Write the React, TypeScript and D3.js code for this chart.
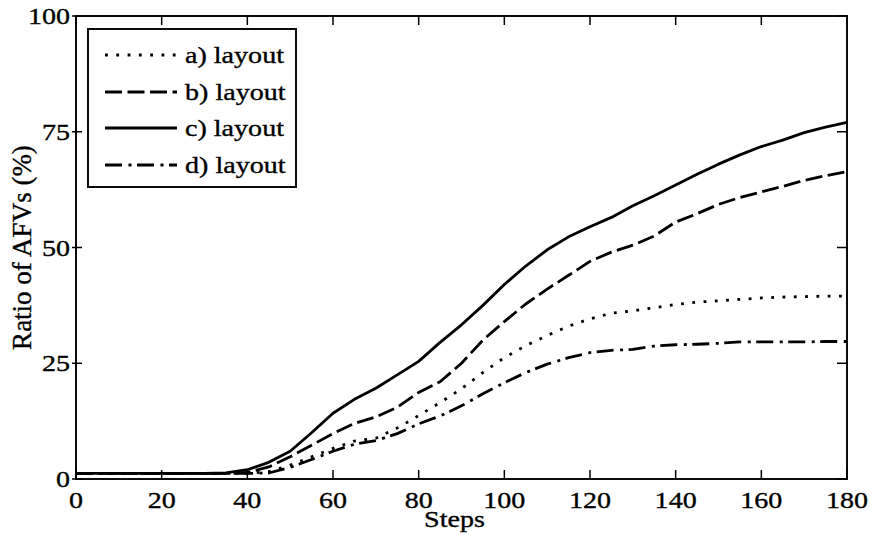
import React from "react";
import * as d3 from "d3";

const steps = [0,5,10,15,20,25,30,35,40,45,50,55,60,65,70,75,80,85,90,95,100,105,110,115,120,125,130,135,140,145,150,155,160,165,170,175,180];

const seriesA = [1.2,1.2,1.2,1.2,1.2,1.2,1.2,1.2,1.2,1.6,3.0,4.8,6.6,8.2,8.8,11.0,13.7,16.5,19.5,23.0,26.2,28.8,31.0,33.0,34.6,35.8,36.3,37.0,37.7,38.2,38.5,38.8,39.1,39.3,39.4,39.5,39.5];
const seriesB = [1.2,1.2,1.2,1.2,1.2,1.2,1.2,1.2,1.4,2.6,4.8,7.3,9.8,12.0,13.4,15.5,18.7,21.0,25.0,30.0,34.0,37.8,41.0,44.0,47.0,49.0,50.5,52.5,55.5,57.3,59.3,60.8,62.0,63.2,64.5,65.5,66.4];
const seriesC = [1.2,1.2,1.2,1.2,1.2,1.2,1.2,1.3,2.0,3.6,6.0,10.0,14.2,17.2,19.6,22.5,25.4,29.5,33.3,37.5,42.0,46.0,49.5,52.3,54.5,56.5,59.0,61.2,63.5,65.8,68.0,70.0,71.8,73.2,74.8,76.0,77.0];
const seriesD = [1.2,1.2,1.2,1.2,1.2,1.2,1.2,1.2,1.2,1.3,2.5,4.2,6.0,7.5,8.3,9.8,11.9,13.6,15.8,18.4,20.8,23.0,24.8,26.2,27.3,27.8,28.0,28.7,29.0,29.1,29.3,29.6,29.6,29.6,29.6,29.7,29.7];

const seriesNames = ["a) layout", "b) layout", "c) layout", "d) layout"];
const xTicks = [0,20,40,60,80,100,120,140,160,180];
const yTicks = [0,25,50,75,100];

const dashes = ["2.8,8.5", "17,5.5", "", "17,6.5,3,5.5"];

const W = 872, H = 535;
const L = 76, R = 847, T = 16, B = 479;
const FS = 24;
const SX = 1.17;
const FONT = '"Liberation Serif", "Times New Roman", Tinos, "Nimbus Roman", serif';
const tstyle = { fontFamily: FONT, fontSize: FS } as React.CSSProperties;
const lstyle = { fontFamily: FONT, fontSize: 27 } as React.CSSProperties;

export default function App() {
  const x = d3.scaleLinear().domain([0, 180]).range([L, R]);
  const y = d3.scaleLinear().domain([0, 100]).range([B, T]);
  const line = d3.line<number>().x((_, i) => x(steps[i])).y((v) => y(v));
  const all = [seriesA, seriesB, seriesC, seriesD];

  const legX0 = 88, legY0 = 29, legW = 208, legH = 158;
  const rowY = [55, 92, 128, 165];
  const tr = (px: number, py: number) => `translate(${px},${py}) scale(${SX},1)`;

  return (
    <div style={{ position: "absolute", left: 0, top: 0 }}>
      <svg width={W} height={H} style={{ display: "block", background: "#fff" }}>
        <rect x={0} y={0} width={W} height={H} fill="#fff" />
        {all.map((s, i) => (
          <path key={i} d={line(s) || ""} fill="none" stroke="#000" strokeWidth={2.8}
            strokeDasharray={dashes[i] || undefined} strokeLinejoin="round" />
        ))}
        <rect x={L} y={T} width={R - L} height={B - T} fill="none" stroke="#000" strokeWidth={1.9} />
        <g fill="#000" stroke="#000" strokeWidth={0.35}>
          {xTicks.map((t) => (
            <g key={"x" + t}>
              <line x1={x(t)} x2={x(t)} y1={B} y2={B - 9} strokeWidth={1.5} />
              <line x1={x(t)} x2={x(t)} y1={T} y2={T + 9} strokeWidth={1.5} />
              <text transform={tr(x(t), 508)} textAnchor="middle" style={tstyle}>{t}</text>
            </g>
          ))}
          {yTicks.map((t) => (
            <g key={"y" + t}>
              <line x1={L - 4} x2={L + 6} y1={y(t)} y2={y(t)} strokeWidth={1.5} />
              <line x1={R} x2={R - 10} y1={y(t)} y2={y(t)} strokeWidth={1.5} />
              <text transform={tr(70, y(t) + 8)} textAnchor="end" style={tstyle}>{t}</text>
            </g>
          ))}
          <text transform={tr((L + R) / 2 - 7, 527)} textAnchor="middle" style={tstyle}>Steps</text>
          <text transform={`translate(31,${(T + B) / 2}) rotate(-90)`} textAnchor="middle" style={lstyle}>Ratio of AFVs (%)</text>
        </g>
        <rect x={legX0} y={legY0} width={legW} height={legH} fill="#fff" stroke="#000" strokeWidth={1.9} />
        {seriesNames.map((n, i) => (
          <g key={n}>
            <line x1={105} x2={177} y1={rowY[i]} y2={rowY[i]} stroke="#000" strokeWidth={2.8}
              strokeDasharray={dashes[i] || undefined} />
            <text transform={tr(185, rowY[i] + 8)} style={tstyle} fill="#000" stroke="#000" strokeWidth={0.35}>{n}</text>
          </g>
        ))}
      </svg>
    </div>
  );
}
